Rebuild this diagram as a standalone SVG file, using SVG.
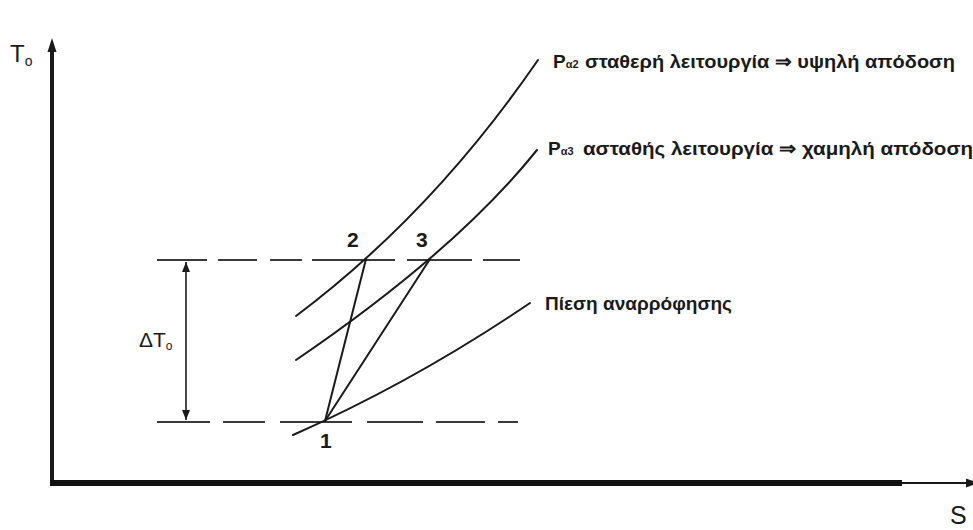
<svg xmlns="http://www.w3.org/2000/svg" width="973" height="530" viewBox="0 0 973 530">
<style>
.ln{fill:none;stroke:#1a1a1a;stroke-width:2;stroke-linecap:round}
.ds{fill:none;stroke:#3a3a3a;stroke-width:2}
.lbl{font-family:"Liberation Sans",Arial,sans-serif;fill:#1a1a1a}
.b{font-weight:bold}
</style>
<defs>
<marker id="ah" viewBox="0 0 10 10" refX="10" refY="5" markerWidth="10" markerHeight="10" markerUnits="userSpaceOnUse" orient="auto-start-reverse">
<path d="M0,1 L10,5 L0,9 Z" fill="#1a1a1a"/>
</marker>
</defs>
<rect width="973" height="530" fill="#fff"/>
<g id="axes">
<line x1="52" y1="48" x2="52" y2="486" stroke="#1a1a1a" stroke-width="4"/>
<polygon points="52,38 47.5,52 56.5,52" fill="#1a1a1a"/>
<line x1="50" y1="483" x2="902" y2="483" stroke="#111" stroke-width="6"/>
<line x1="900" y1="483" x2="968" y2="483" stroke="#1a1a1a" stroke-width="2"/>
<polygon points="979,483 966,478.5 966,487.5" fill="#1a1a1a"/>
<text class="lbl" x="10" y="62" font-size="24">T<tspan font-size="14" dy="4">o</tspan></text>
<text class="lbl" x="950" y="524" font-size="25">S</text>
</g>
<g id="levels">
<path class="ds" d="M157,260 H207 M218,260 H257 M270,260 H302 M312,260 H395 M407,260 H472 M483,260 H520"/>
<path class="ds" d="M157,422 H210 M223,422 H265 M280,422 H352 M367,422 H423 M436,422 H485 M498,422 H518"/>
</g>
<g id="deltaT">
<line x1="186" y1="262" x2="186" y2="420" stroke="#1a1a1a" stroke-width="1.6" marker-start="url(#ah)" marker-end="url(#ah)"/>
<text class="lbl" x="139" y="347" font-size="21">ΔT<tspan font-size="12" dy="3">o</tspan></text>
</g>
<g id="connectors">
<path class="ln" d="M296,316 Q432,214 538,60"/>
<path class="ln" d="M296,360 Q456,251 537,150"/>
<path class="ln" d="M293,435 Q415,381 530,303"/>
<line class="ln" x1="325" y1="421" x2="366" y2="259"/>
<line class="ln" x1="325" y1="421" x2="430" y2="259"/>
</g>
<g id="point1"><text class="lbl b" x="320" y="448" font-size="21">1</text></g>
<g id="point2"><text class="lbl b" x="347" y="247" font-size="21">2</text></g>
<g id="point3"><text class="lbl b" x="416" y="247" font-size="21">3</text></g>
<g id="label-pa2">
<text class="lbl b" x="553" y="68" font-size="19">P<tspan font-size="11">α2</tspan></text>
<text class="lbl b" x="585" y="68" font-size="19" textLength="370" lengthAdjust="spacingAndGlyphs">σταθερή λειτουργία ⇒ υψηλή απόδοση</text>
</g>
<g id="label-pa3">
<text class="lbl b" x="548" y="155" font-size="19">P<tspan font-size="11">α3</tspan></text>
<text class="lbl b" x="583" y="155" font-size="19" textLength="390" lengthAdjust="spacingAndGlyphs">ασταθής λειτουργία ⇒ χαμηλή απόδοση</text>
</g>
<g id="label-suction">
<text class="lbl b" x="545" y="310" font-size="18" textLength="187" lengthAdjust="spacingAndGlyphs">Πίεση αναρρόφησης</text>
</g>
</svg>
